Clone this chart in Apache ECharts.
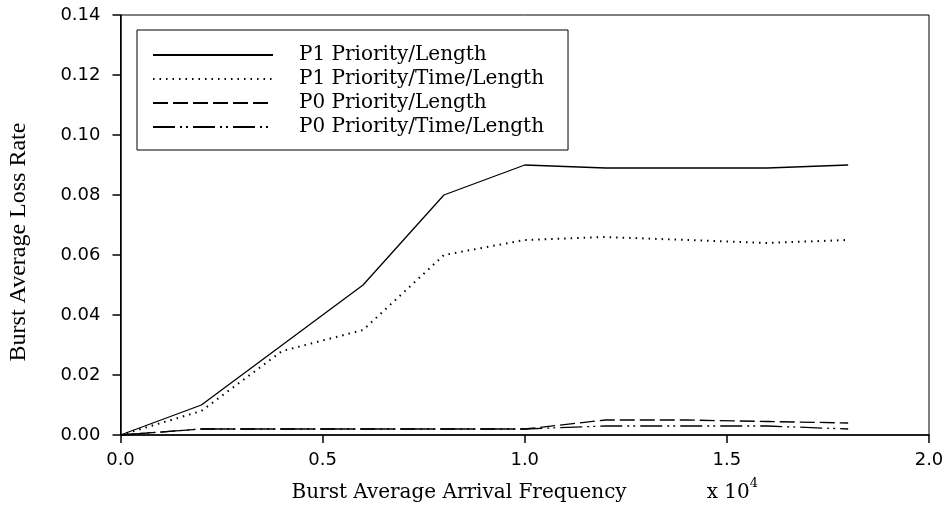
<!DOCTYPE html>
<html>
<head>
<meta charset="utf-8">
<script src="https://cdn.jsdelivr.net/npm/echarts@6/dist/echarts.min.js"></script>
<style>
  html, body { margin: 0; padding: 0; background: #fff; }
  #chart { width: 947px; height: 510px; }
</style>
</head>
<body>
<div id="chart"></div>
<script>
// arrival frequency (x 10^4)
const freq = [0, 0.2, 0.4, 0.6, 0.8, 1.0, 1.2, 1.4, 1.6, 1.8]
const seriesNames = [
  'P1 Priority/Length',
  'P1 Priority/Time/Length',
  'P0 Priority/Length',
  'P0 Priority/Time/Length'
]
const p1Length = [0, 0.010, 0.030, 0.050, 0.080, 0.090, 0.089, 0.089, 0.089, 0.090]
const p1TimeLength = [0, 0.008, 0.028, 0.035, 0.060, 0.065, 0.066, 0.065, 0.064, 0.065]
const p0Length = [0, 0.002, 0.002, 0.002, 0.002, 0.002, 0.005, 0.005, 0.0045, 0.004]
const p0TimeLength = [0, 0.002, 0.002, 0.002, 0.002, 0.002, 0.003, 0.003, 0.003, 0.002]

const dashTypes = ['solid', [1.5, 5], [15, 5], [22, 5, 2, 4, 2, 5]]

function pairs(ys) {
  return freq.map((x, i) => [x, ys[i]])
}

const chart = echarts.init(document.getElementById('chart'))

chart.setOption({
  animation: false,
  grid: {
    left: 120.5,
    right: 18,
    top: 15,
    bottom: 75,
    outerBoundsMode: 'none',
    containLabel: false,
    show: true,
    borderColor: '#000',
    borderWidth: 1
  },
  legend: {
    orient: 'vertical',
    left: 137,
    top: 30,
    padding: [14, 24, 12, 15],
    borderColor: '#000',
    borderWidth: 1,
    itemWidth: 120,
    itemHeight: 14,
    itemGap: 2,
    itemStyle: { opacity: 0 },
    textStyle: {
      fontFamily: 'DejaVu Serif',
      fontSize: 20,
      color: '#000',
      lineHeight: 22,
      padding: [0, 0, 0, 21]
    },
    data: seriesNames
  },
  xAxis: {
    type: 'value',
    min: 0,
    max: 2,
    interval: 0.5,
    name: '{t|Burst Average Arrival Frequency}{s|x 10}{sup|4}',
    nameLocation: 'middle',
    nameGap: 42,
    nameTextStyle: {
      rich: {
        t: { fontFamily: 'DejaVu Serif', fontSize: 20, color: '#000', padding: [0, 80, 0, 0], lineHeight: 26, verticalAlign: 'bottom' },
        s: { fontFamily: 'DejaVu Serif', fontSize: 20, color: '#000', lineHeight: 26, verticalAlign: 'bottom' },
        sup: { fontFamily: 'DejaVu Serif', fontSize: 13, color: '#000', lineHeight: 26, verticalAlign: 'top' }
      }
    },
    axisLine: { lineStyle: { color: '#000', width: 1.5 } },
    axisTick: { length: 8, lineStyle: { color: '#000', width: 1.5 } },
    axisLabel: {
      margin: 16,
      fontFamily: 'DejaVu Sans',
      fontSize: 18,
      color: '#000',
      formatter: v => v.toFixed(1)
    },
    splitLine: { show: false }
  },
  yAxis: {
    type: 'value',
    min: 0,
    max: 0.14,
    interval: 0.02,
    name: 'Burst Average Loss Rate',
    nameLocation: 'middle',
    nameGap: 90,
    nameTextStyle: {
      fontFamily: 'Liberation Serif',
      fontSize: 24,
      color: '#000',
      padding: [0, 34, 0, 0]
    },
    axisLine: { show: true, lineStyle: { color: '#000', width: 1.5 } },
    axisTick: { show: true, length: 8, lineStyle: { color: '#000', width: 1.5 } },
    axisLabel: {
      margin: 20,
      fontFamily: 'DejaVu Sans',
      fontSize: 18,
      color: '#000',
      formatter: v => v.toFixed(2)
    },
    splitLine: { show: false }
  },
  series: [p1Length, p1TimeLength, p0Length, p0TimeLength].map((ys, i) => ({
    name: seriesNames[i],
    type: 'line',
    symbol: 'none',
    color: '#000',
    lineStyle: { color: '#000', width: i === 1 ? 2 : 1.3, type: dashTypes[i] },
    data: pairs(ys)
  }))
})
</script>
</body>
</html>
